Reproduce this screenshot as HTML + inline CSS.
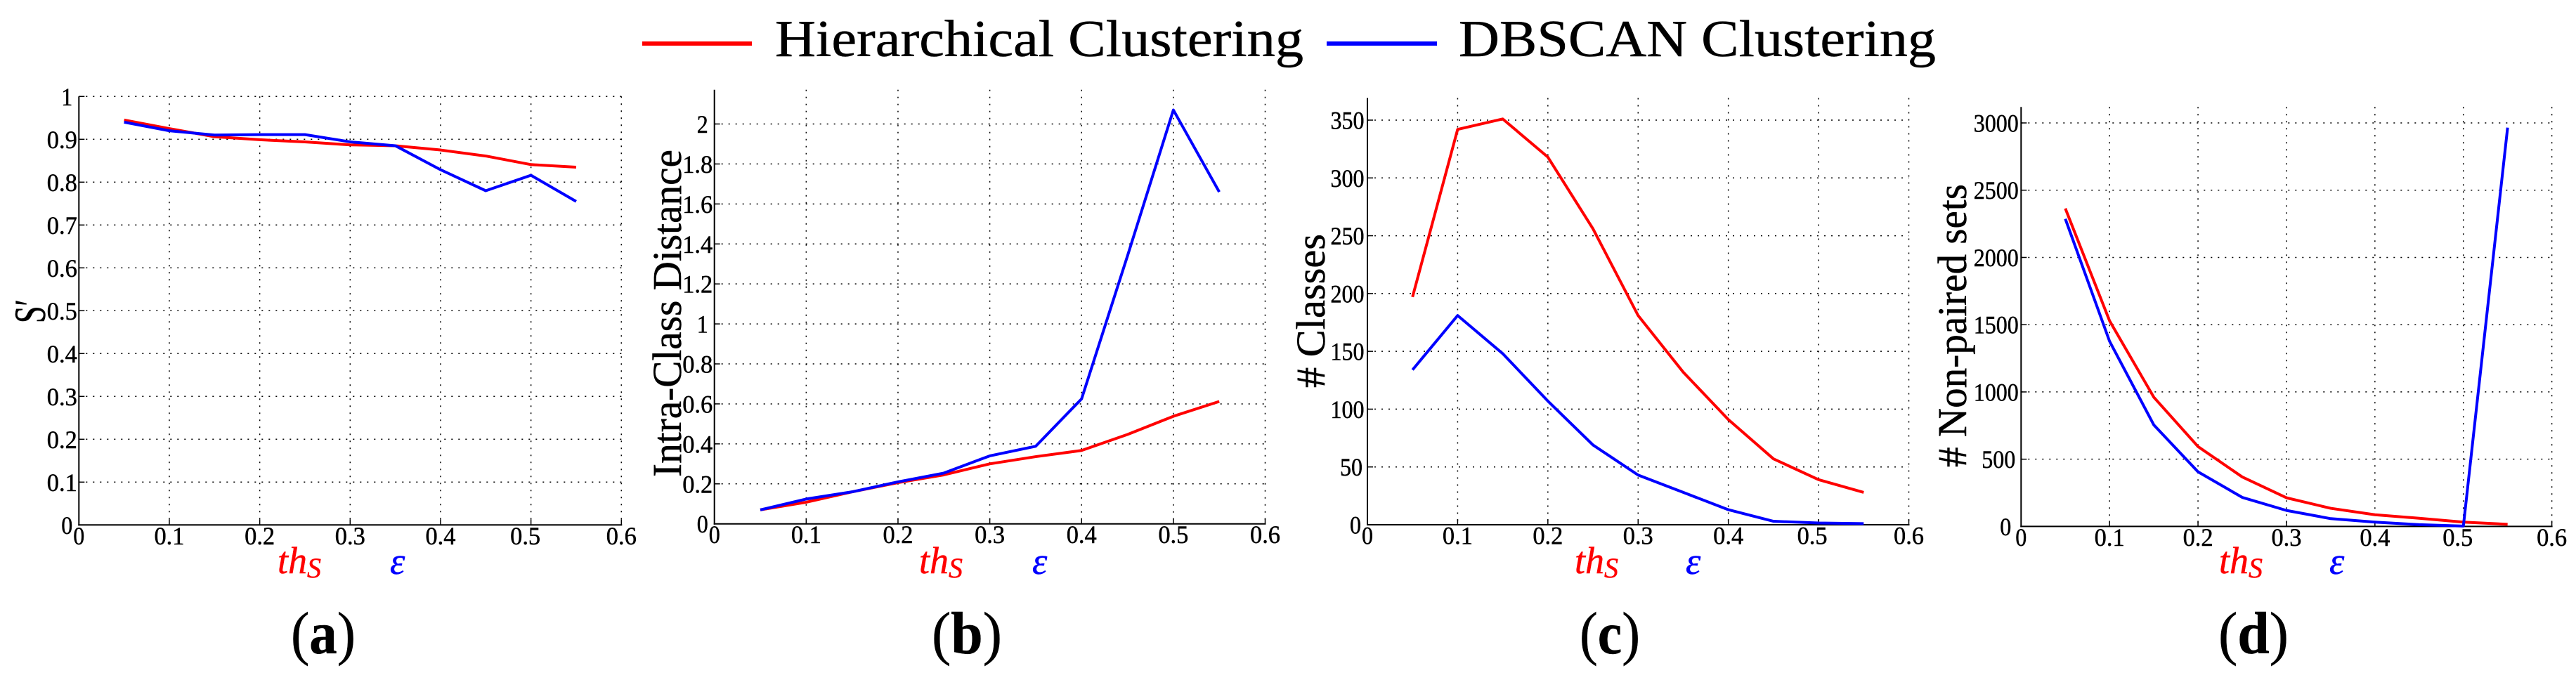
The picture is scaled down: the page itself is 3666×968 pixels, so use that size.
<!DOCTYPE html>
<html lang="en">
<head>
<meta charset="utf-8">
<title>Clustering comparison charts</title>
<style>
html,body{margin:0;padding:0;background:#fff;width:3666px;height:968px;overflow:hidden}
svg{display:block}
text{font-family:"Liberation Serif",serif;fill:#000;stroke:#000;stroke-width:0.5px}
</style>
</head>
<body>
<svg id="figure" xmlns="http://www.w3.org/2000/svg" width="3666" height="968" viewBox="0 0 3666 968">
  <rect x="0" y="0" width="3666" height="968" fill="#fff"/>
  <g>
    <line x1="914" y1="62" x2="1070" y2="62" stroke="#ff0000" stroke-width="6"/>
    <text x="1103" y="80" font-size="74" textLength="752" lengthAdjust="spacingAndGlyphs">Hierarchical Clustering</text>
    <line x1="1888" y1="62" x2="2045" y2="62" stroke="#0000ff" stroke-width="6"/>
    <text x="2076" y="80" font-size="74" textLength="679" lengthAdjust="spacingAndGlyphs">DBSCAN Clustering</text>
  </g>

  <g id="panel-a">
    <text transform="translate(64,460) rotate(-90)" font-size="64" textLength="34" lengthAdjust="spacingAndGlyphs">S′</text>
    <text x="395" y="816" font-size="54" font-style="italic" style="fill:#ff0000;stroke:#ff0000">th<tspan dy="6" font-size="40">S</tspan></text>
    <text x="555" y="817" font-size="54" font-style="italic" style="fill:#0000ff;stroke:#0000ff">ε</text>
    <text x="460" y="930" font-size="85" text-anchor="middle" textLength="92" lengthAdjust="spacingAndGlyphs">(<tspan font-weight="bold">a</tspan>)</text>
  </g>
  <g id="panel-b">
    <text transform="translate(969,679) rotate(-90)" font-size="58" textLength="466" lengthAdjust="spacingAndGlyphs">Intra-Class Distance</text>
    <text x="1308" y="816" font-size="54" font-style="italic" style="fill:#ff0000;stroke:#ff0000">th<tspan dy="6" font-size="40">S</tspan></text>
    <text x="1469" y="817" font-size="54" font-style="italic" style="fill:#0000ff;stroke:#0000ff">ε</text>
    <text x="1376" y="930" font-size="85" text-anchor="middle" textLength="100" lengthAdjust="spacingAndGlyphs">(<tspan font-weight="bold">b</tspan>)</text>
  </g>
  <g id="panel-c">
    <text transform="translate(1885,552) rotate(-90)" font-size="58" textLength="219" lengthAdjust="spacingAndGlyphs"># Classes</text>
    <text x="2241" y="816" font-size="54" font-style="italic" style="fill:#ff0000;stroke:#ff0000">th<tspan dy="6" font-size="40">S</tspan></text>
    <text x="2399" y="817" font-size="54" font-style="italic" style="fill:#0000ff;stroke:#0000ff">ε</text>
    <text x="2291" y="930" font-size="85" text-anchor="middle" textLength="86" lengthAdjust="spacingAndGlyphs">(<tspan font-weight="bold">c</tspan>)</text>
  </g>
  <g id="panel-d">
    <text transform="translate(2798,665) rotate(-90)" font-size="58" textLength="403" lengthAdjust="spacingAndGlyphs"># Non-paired sets</text>
    <text x="3158" y="816" font-size="54" font-style="italic" style="fill:#ff0000;stroke:#ff0000">th<tspan dy="6" font-size="40">S</tspan></text>
    <text x="3315" y="817" font-size="54" font-style="italic" style="fill:#0000ff;stroke:#0000ff">ε</text>
    <text x="3207" y="930" font-size="85" text-anchor="middle" textLength="100" lengthAdjust="spacingAndGlyphs">(<tspan font-weight="bold">d</tspan>)</text>
  </g>
</svg>
<script>
// Shared x data
var xValues = [0.05,0.1,0.15,0.2,0.25,0.3,0.35,0.4,0.45,0.5,0.55];
var xTicks = [0,0.1,0.2,0.3,0.4,0.5,0.6];
var xTickLabels = ['0','0.1','0.2','0.3','0.4','0.5','0.6'];

// Panel (a) S'
var redA = [0.945,0.925,0.906,0.899,0.894,0.887,0.885,0.875,0.861,0.841,0.835];
var blueA = [0.94,0.92,0.91,0.911,0.911,0.894,0.885,0.829,0.78,0.816,0.755];
var yTicksA = [0,0.1,0.2,0.3,0.4,0.5,0.6,0.7,0.8,0.9,1];
var yTickLabelsA = ['0','0.1','0.2','0.3','0.4','0.5','0.6','0.7','0.8','0.9','1'];

// Panel (b) Intra-class distance
var redB = [0.07,0.108,0.16,0.206,0.245,0.30,0.336,0.367,0.447,0.538,0.612];
var blueB = [0.07,0.124,0.16,0.21,0.254,0.34,0.388,0.625,1.34,2.07,1.66];
var yTicksB = [0,0.2,0.4,0.6,0.8,1,1.2,1.4,1.6,1.8,2];
var yTickLabelsB = ['0','0.2','0.4','0.6','0.8','1','1.2','1.4','1.6','1.8','2'];

// Panel (c) # Classes
var redC = [197,342,351,318,256,181,132,91,57,39,28];
var blueC = [134,181,148,107,69,43,28,13,3,1.5,1];
var yTicksC = [0,50,100,150,200,250,300,350];
var yTickLabelsC = ['0','50','100','150','200','250','300','350'];

// Panel (d) # Non-paired sets
var redD = [2364,1529,961,594,368,213,135,87,61,32,16];
var blueD = [2287,1377,755,406,216,119,58,32,13,3,2965];
var yTicksD = [0,500,1000,1500,2000,2500,3000];
var yTickLabelsD = ['0','500','1000','1500','2000','2500','3000'];

var SVG_NS = 'http://www.w3.org/2000/svg';

function make(parent, tag, attrs, content) {
  var el = document.createElementNS(SVG_NS, tag);
  for (var k in attrs) { el.setAttribute(k, attrs[k]); }
  if (content !== undefined) { el.textContent = content; }
  parent.appendChild(el);
  return el;
}

function labelWidth(s) {
  var w = 0;
  for (var i = 0; i < s.length; i++) { w += s[i] === '.' ? 11 : 16; }
  return w;
}

function drawPanel(p) {
  var root = document.getElementById(p.id);
  var sx = function (v) { return p.x0 + (v - 0) / 0.6 * (p.x6 - p.x0); };
  var sy = function (v) { return p.y0 - v / p.yRef * (p.y0 - p.yRefPx); };

  p.xTicks.forEach(function (t, i) {
    if (t > 0) {
      var grid = make(root, 'line', {x1: sx(t), y1: p.top, x2: sx(t), y2: p.y0, stroke: '#000', 'stroke-width': 1.5, 'stroke-dasharray': '2 8'});
      
      
      var tick = make(root, 'line', {x1: sx(t), y1: p.y0 - 8, x2: sx(t), y2: p.y0, stroke: '#000', 'stroke-width': 1.5});
      
      
    }
    var s = p.xLabels[i];
    var shift = s === '0.5' ? p.shift05 : 0;
    var lab = make(root, 'text', {x: sx(t) + shift, y: p.y0 + 27.5, 'font-size': 36, 'text-anchor': 'middle', textLength: labelWidth(s), lengthAdjust: 'spacingAndGlyphs'}, s);
    
    
  });

  p.yTicks.forEach(function (t, i) {
    if (t > 0) {
      var grid = make(root, 'line', {x1: p.x0, y1: sy(t), x2: p.x6, y2: sy(t), stroke: '#000', 'stroke-width': 1.5, 'stroke-dasharray': '2 8'});
      
      
      var tick = make(root, 'line', {x1: p.x0, y1: sy(t), x2: p.x0 + 8, y2: sy(t), stroke: '#000', 'stroke-width': 1.5});
      
      
    }
    var s = p.yLabels[i];
    var lab = make(root, 'text', {x: p.x0 - p.gap(s), y: sy(t) + 12.5, 'font-size': 36, 'text-anchor': 'end', textLength: labelWidth(s), lengthAdjust: 'spacingAndGlyphs'}, s);
    
    
  });

  var axisY = make(root, 'line', {x1: p.x0, y1: p.top, x2: p.x0, y2: p.y0 + 1, stroke: '#000', 'stroke-width': 2});
  
  
  var axisX = make(root, 'line', {x1: p.x0 - 1, y1: p.y0, x2: p.x6 + 1, y2: p.y0, stroke: '#000', 'stroke-width': 2});
  
  

  var toPts = function (vals) {
    return vals.map(function (v, i) { return sx(xValues[i]).toFixed(2) + ',' + sy(v).toFixed(2); }).join(' ');
  };
  var lineRed = make(root, 'polyline', {points: toPts(p.red), fill: 'none', stroke: '#ff0000', 'stroke-width': 4, 'stroke-linejoin': 'round'});
  
  
  var lineBlue = make(root, 'polyline', {points: toPts(p.blue), fill: 'none', stroke: '#0000ff', 'stroke-width': 4, 'stroke-linejoin': 'round'});
  
  
}

drawPanel({id: 'panel-a', x0: 112.3, x6: 884.3, y0: 747.3, top: 137.3, yRef: 1, yRefPx: 137.3, shift05: -8,
  xTicks: xTicks, xLabels: xTickLabels, yTicks: yTicksA, yLabels: yTickLabelsA, red: redA, blue: blueA,
  gap: function (s) { return s.length === 1 ? 9 : 2.5; }});
drawPanel({id: 'panel-b', x0: 1016.7, x6: 1800.5, y0: 745.7, top: 127.8, yRef: 2, yRefPx: 176.5, shift05: 0,
  xTicks: xTicks, xLabels: xTickLabels, yTicks: yTicksB, yLabels: yTickLabelsB, red: redB, blue: blueB,
  gap: function (s) { return s.length === 1 ? 9 : 2.5; }});
drawPanel({id: 'panel-c', x0: 1946, x6: 2716.5, y0: 747, top: 139.5, yRef: 350, yRefPx: 171, shift05: -9,
  xTicks: xTicks, xLabels: xTickLabels, yTicks: yTicksC, yLabels: yTickLabelsC, red: redC, blue: blueC,
  gap: function (s) { return s.length === 3 ? 4.5 : (s.length === 2 ? 7 : 9); }});
drawPanel({id: 'panel-d', x0: 2876.3, x6: 3631.6, y0: 749.4, top: 152.3, yRef: 3000, yRefPx: 175, shift05: -8,
  xTicks: xTicks, xLabels: xTickLabels, yTicks: yTicksD, yLabels: yTickLabelsD, red: redD, blue: blueD,
  gap: function (s) { return s.length === 4 ? 3.5 : (s.length === 3 ? 8 : 14); }});
</script>
</body>
</html>
